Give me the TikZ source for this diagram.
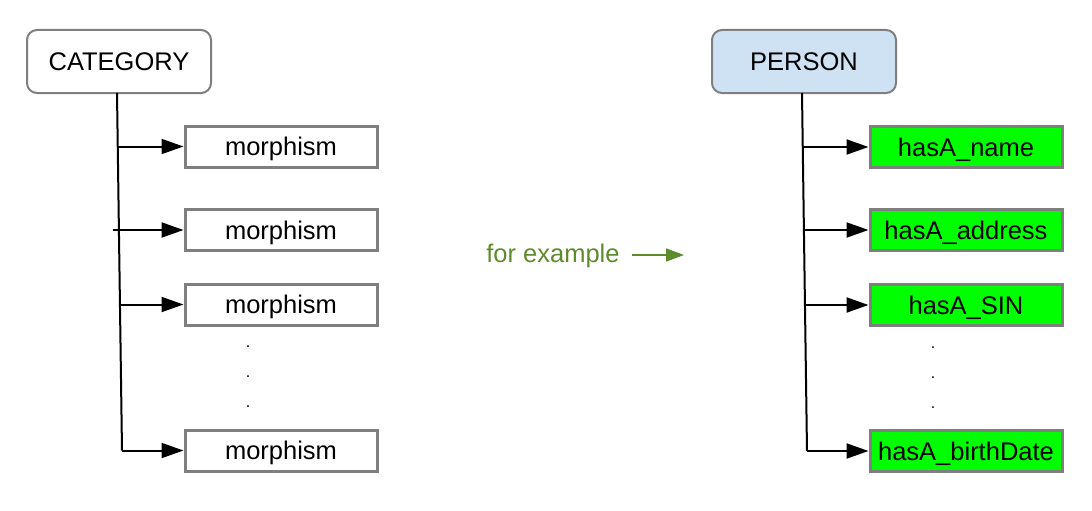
\documentclass[tikz,border=0pt]{standalone}
\usepackage{fontspec}
\setmainfont{Liberation Sans}
\usetikzlibrary{arrows.meta}
\definecolor{bordergray}{HTML}{7F7F7F}
\definecolor{lightblue}{HTML}{CFE2F3}
\definecolor{brightgreen}{HTML}{00FF00}
\definecolor{olivegreen}{HTML}{5E8B2C}
\begin{document}
\begin{tikzpicture}[x=1pt,y=-1pt,
  every node/.style={font=\fontsize{25.5}{30}\selectfont, inner sep=0pt, text height=21pt, text depth=3pt},
  headbox/.style={draw=bordergray, line width=2pt, rounded corners=10pt, minimum width=184pt, minimum height=63pt},
  itembox/.style={draw=bordergray, line width=3pt, minimum width=192pt, minimum height=41pt},
  greenbox/.style={itembox, fill=brightgreen},
  conn/.style={line width=2pt, black},
  arr/.style={conn, -{Triangle[length=22pt,width=15pt]}},
  dotmark/.style={font=\fontsize{16}{18}\selectfont}
]
\useasboundingbox (0,0) rectangle (1092,511);

% left tree
\node[headbox] (cat) at (119,61.5) {CATEGORY};
\node[itembox] (m1) at (281,146.5) {morphism};
\node[itembox] (m2) at (281,230) {morphism};
\node[itembox] (m3) at (281,304.5) {morphism};
\node[itembox] (m4) at (281,450.5) {morphism};
\node[dotmark] (ld1) at (248,338) {.};
\node[dotmark] (ld2) at (248,368) {.};
\node[dotmark] (ld3) at (248,398) {.};

\coordinate (ltop) at (117,93);
\coordinate (lbot) at (122,450.5);
\coordinate (lb1) at (118,146.5);
\coordinate (lb2) at (113,230);
\coordinate (lb3) at (120,304.5);
\draw[conn] (ltop) -- (lbot);
\draw[arr] (lb1) -- (m1.west);
\draw[arr] (lb2) -- (m2.west);
\draw[arr] (lb3) -- (m3.west);
\draw[arr] (lbot) -- (m4.west);

% middle
\node[text=olivegreen] (ex) at (553,253) {for example};
\coordinate (exa) at (632,255);
\coordinate (exb) at (684,255);
\draw[line width=1.6pt, olivegreen, -{Triangle[length=18pt,width=13pt]}] (exa) -- (exb);

% right tree
\node[headbox, fill=lightblue] (per) at (804,61.5) {PERSON};
\node[greenbox] (h1) at (966,147) {hasA\_name};
\node[greenbox] (h2) at (966,230) {hasA\_address};
\node[greenbox] (h3) at (966,305) {hasA\_SIN};
\node[greenbox] (h4) at (966,451) {hasA\_birthDate};
\node[dotmark] (rd1) at (933,339) {.};
\node[dotmark] (rd2) at (933,369) {.};
\node[dotmark] (rd3) at (933,399) {.};

\coordinate (rtop) at (802,93);
\coordinate (rbot) at (807,451);
\coordinate (rb1) at (803.5,147);
\coordinate (rb2) at (804.5,230);
\coordinate (rb3) at (805.5,305);
\draw[conn] (rtop) -- (rbot);
\draw[arr] (rb1) -- (h1.west);
\draw[arr] (rb2) -- (h2.west);
\draw[arr] (rb3) -- (h3.west);
\draw[arr] (rbot) -- (h4.west);
\end{tikzpicture}
\end{document}
